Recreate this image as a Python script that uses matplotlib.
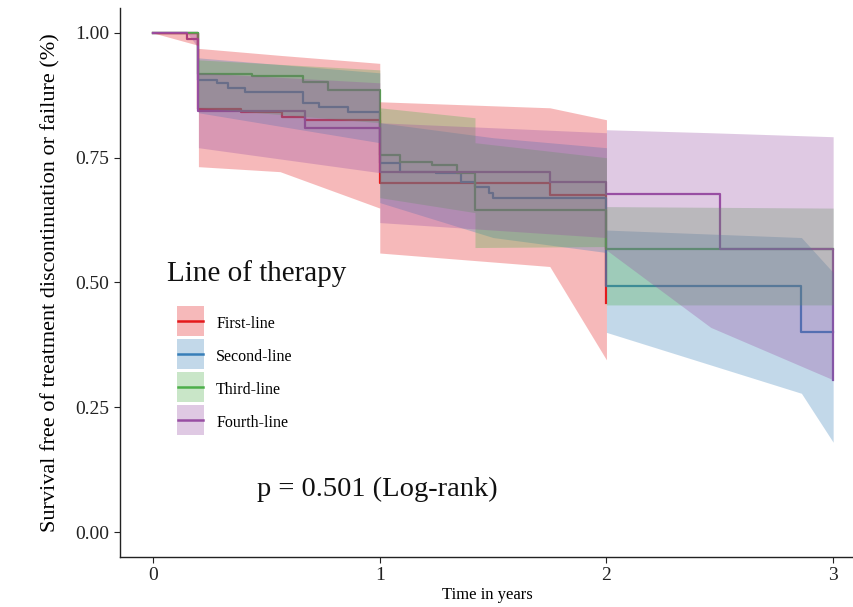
import matplotlib
matplotlib.use("Agg")
import matplotlib.pyplot as plt
from matplotlib.patches import Rectangle, Patch
from matplotlib.lines import Line2D
from matplotlib.legend_handler import HandlerBase

plt.rcParams["font.family"] = ["Liberation Serif", "DejaVu Serif"]

# Kaplan-Meier step curves (time in years, survival probability)
groups = ["First-line", "Second-line", "Third-line", "Fourth-line"]
colors = ["#E41A1C", "#377EB8", "#4DAF4A", "#984EA3"]

first_t = [0, 0.2, 0.39, 0.57, 0.67, 1.0, 1.75, 2.0]
first_s = [1.0, 0.848, 0.842, 0.832, 0.826, 0.699, 0.675, 0.459]

second_t = [0, 0.2, 0.28, 0.33, 0.405, 0.66, 0.73, 0.86, 1.0, 1.09, 1.25,
            1.36, 1.42, 1.48, 1.5, 2.0, 2.86, 3.0]
second_s = [1.0, 0.906, 0.899, 0.889, 0.882, 0.859, 0.852, 0.842, 0.74, 0.722,
            0.72, 0.702, 0.692, 0.679, 0.669, 0.492, 0.401, 0.401]

third_t = [0, 0.2, 0.435, 0.66, 0.77, 1.0, 1.09, 1.23, 1.34, 1.42, 2.0, 3.0]
third_s = [1.0, 0.917, 0.914, 0.902, 0.886, 0.755, 0.742, 0.735, 0.72, 0.645,
           0.568, 0.568]

fourth_t = [0, 0.15, 0.2, 0.67, 1.0, 1.75, 2.0, 2.5, 3.0]
fourth_s = [1.0, 0.988, 0.844, 0.809, 0.722, 0.702, 0.677, 0.568, 0.305]

# 95% confidence bands
first_band_t = [0, 0.2, 0.2, 0.56, 1.0, 1.0, 1.75, 2.0]
first_lo = [1.0, 0.975, 0.732, 0.722, 0.649, 0.559, 0.532, 0.345]
first_hi = [1.0, 1.0, 0.969, 0.955, 0.939, 0.862, 0.850, 0.826]

second_band_t = [0, 0.2, 0.2, 1.0, 1.0, 1.5, 2.0, 2.0, 2.86, 3.0]
second_lo = [1.0, 1.0, 0.84, 0.78, 0.66, 0.59, 0.56, 0.40, 0.278, 0.18]
second_hi = [1.0, 1.0, 0.95, 0.92, 0.82, 0.79, 0.77, 0.605, 0.59, 0.52]

third_band_t = [0, 0.2, 0.2, 1.0, 1.0, 1.42, 1.42, 2.0, 2.0, 3.0]
third_lo = [1.0, 1.0, 0.85, 0.82, 0.67, 0.64, 0.57, 0.572, 0.455, 0.455]
third_hi = [1.0, 1.0, 0.946, 0.926, 0.85, 0.83, 0.78, 0.75, 0.652, 0.649]

fourth_band_t = [0, 0.15, 0.2, 0.2, 1.0, 1.0, 2.0, 2.0, 2.46, 3.0]
fourth_lo = [1.0, 1.0, 0.97, 0.77, 0.72, 0.62, 0.59, 0.565, 0.41, 0.305]
fourth_hi = [1.0, 1.0, 1.0, 0.92, 0.90, 0.82, 0.80, 0.806, 0.80, 0.792]

steps = [(first_t, first_s), (second_t, second_s), (third_t, third_s),
         (fourth_t, fourth_s)]
bands = [(first_band_t, first_lo, first_hi), (second_band_t, second_lo, second_hi),
         (third_band_t, third_lo, third_hi), (fourth_band_t, fourth_lo, fourth_hi)]

x_ticks = [0, 1, 2, 3]
y_ticks = [0.0, 0.25, 0.5, 0.75, 1.0]
y_tick_labels = ["0.00", "0.25", "0.50", "0.75", "1.00"]

band_alpha = 0.3


class BandKeyHandler(HandlerBase):
    """Legend key: a shaded square with the curve colour drawn across it."""

    def create_artists(self, legend, orig_handle, xdescent, ydescent, width,
                       height, fontsize, trans):
        color = orig_handle.get_facecolor()
        yc = (height - ydescent) / 2.0
        box_h = 21.6
        rect = Rectangle((-xdescent, yc - box_h / 2.0), width, box_h,
                         facecolor=color[:3], alpha=band_alpha, linewidth=0,
                         transform=trans)
        line = Line2D([-xdescent + 1, -xdescent + width - 1], [yc, yc],
                      color=color[:3], lw=1.8, transform=trans)
        return [rect, line]


fig = plt.figure(figsize=(8.54, 6.07), dpi=100)
ax = fig.add_axes([0.1405, 0.0824, 0.8595, 0.9045])

for (t, s), c in zip(steps, colors):
    ax.step(t, s, where="post", color=c, lw=1.6, zorder=2)

for (bt, lo, hi), c in zip(bands, colors):
    ax.fill_between(bt, lo, hi, color=c, alpha=band_alpha, linewidth=0, zorder=3)

ax.set_xlim(-0.146, 3.092)
ax.set_ylim(-0.05, 1.05)
ax.set_xticks(x_ticks)
ax.set_xticklabels([str(v) for v in x_ticks])
ax.set_yticks(y_ticks)
ax.set_yticklabels(y_tick_labels)
ax.tick_params(axis="both", labelsize=14, colors="#222222", length=4, width=0.8)
for side in ["top", "right"]:
    ax.spines[side].set_visible(False)
for side in ["left", "bottom"]:
    ax.spines[side].set_linewidth(1.0)
    ax.spines[side].set_color("#222222")

ax.set_xlabel("Time in years", fontsize=12, labelpad=2)
ax.set_ylabel("Survival free of treatment discontinuation or failure (%)",
              fontsize=16, labelpad=11)

ax.text(0.0613, 0.5027, "Line of therapy", fontsize=21, ha="left",
        va="baseline", color="#111111", zorder=5)

handles = [Patch(facecolor=c) for c in colors]
leg = ax.legend(handles, groups, handler_map={Patch: BandKeyHandler()},
                loc="upper left", bbox_to_anchor=(0.0777, 0.4444), frameon=False,
                fontsize=11.5, handlelength=1.7, handleheight=1.6,
                labelspacing=0.78, handletextpad=0.75, borderpad=0,
                borderaxespad=0)
leg.set_zorder(5)

ax.text(0.46, 0.085, "p = 0.501 (Log-rank)", fontsize=20.5, va="center",
        ha="left", color="#111111", zorder=5)

fig.savefig("out.png", dpi=100)
